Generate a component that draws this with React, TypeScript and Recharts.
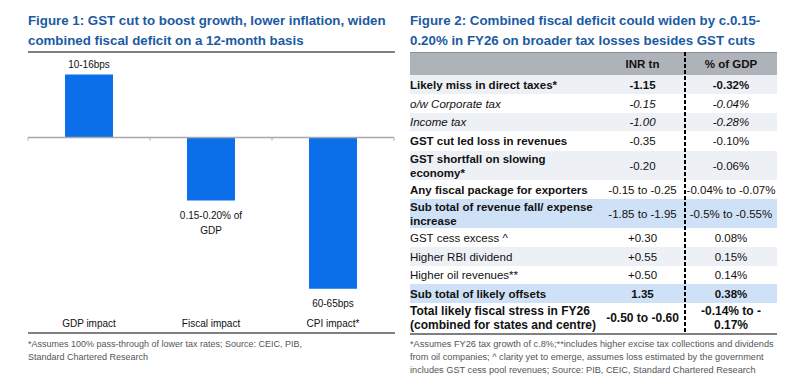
import React from "react";
import { BarChart, Bar, XAxis, YAxis, ReferenceLine, LabelList } from "recharts";

// Figure 1 data
const categories = ["GDP impact", "Fiscal impact", "CPI impact*"];
const impactValues = [25, -25, -60];
const impactLabels = [["10-16bps"], ["0.15-0.20% of", "GDP"], ["60-65bps"]];

// Figure 2 table data
const rowLabels = [
  "Likely miss in direct taxes*",
  "o/w Corporate tax",
  "Income tax",
  "GST cut led loss in revenues",
  "GST shortfall on slowing\neconomy*",
  "Any fiscal package for exporters",
  "Sub total of revenue fall/ expense\nincrease",
  "GST cess excess ^",
  "Higher RBI dividend",
  "Higher oil revenues**",
  "Sub total of likely offsets",
  "Total likely fiscal stress in FY26\n(combined for states and centre)",
];
const inrValues = [
  "-1.15", "-0.15", "-1.00", "-0.35", "-0.20", "-0.15 to -0.25",
  "-1.85 to -1.95", "+0.30", "+0.55", "+0.50", "1.35", "-0.50 to -0.60",
];
const gdpValues = [
  "-0.32%", "-0.04%", "-0.28%", "-0.10%", "-0.06%", "-0.04% to -0.07%",
  "-0.5% to -0.55%", "0.08%", "0.15%", "0.14%", "0.38%", "-0.14% to -\n0.17%",
];
const tableHeaders = ["", "INR tn", "% of GDP"];

// row styling (kept apart from the data)
const ROW_H = [19, 19, 18, 20, 29, 19, 29, 19, 19, 18, 19, 30];
const ROW_BG = ["#edf0f4", "#fff", "#edf0f4", "#fff", "#edf0f4", "#fff", "#cfe1f6", "#fff", "#edf0f4", "#fff", "#cfe1f6", "#fff"];
const LABEL_FONT = ["b", "i", "i", "b", "b", "b", "b", "n", "n", "n", "b", "b"];
const VALUE_FONT = ["b", "i", "i", "n", "n", "n", "n", "n", "n", "n", "b", "b"];

const FONT = '"Liberation Sans", Arial, Helvetica, sans-serif';
const TITLE_BLUE = "#1b5aa3";
const BAR_BLUE = "#0a6fe8";

const fontStyle = (k: string): React.CSSProperties =>
  k === "b" ? { fontWeight: 700 } : k === "i" ? { fontStyle: "italic" } : {};

const chartData = categories.map((name, i) => ({ name, value: impactValues[i] }));

const ZeroAxis = (p: any) => {
  const { x1, x2, y1 } = p;
  const step = (x2 - x1) / categories.length;
  return (
    <g>
      <line x1={x1} x2={x2} y1={y1} y2={y1} stroke="#a9a9a9" strokeWidth={1.5} />
      {Array.from({ length: categories.length + 1 }, (_, i) => (
        <line key={i} x1={x1 + i * step} x2={x1 + i * step} y1={y1} y2={y1 + 3} stroke="#a9a9a9" />
      ))}
    </g>
  );
};

const BarLabel = (props: any) => {
  const vb = props.viewBox ?? props;
  const { x, y, width, height } = vb;
  let idx = props.index;
  if (idx === undefined) idx = impactValues.indexOf(props.value);
  const lines = impactLabels[idx] ?? [];
  const top = Math.min(y, y + height);
  const bottom = Math.max(y, y + height);
  const cx = x + width / 2;
  const neg = impactValues[idx] < 0;
  return (
    <text textAnchor="middle" fontSize={10} fill="#111" fontFamily={FONT}>
      {lines.map((l, i) => (
        <tspan key={i} x={cx} y={neg ? bottom + 18 + i * 15 : top - 7}>
          {l}
        </tspan>
      ))}
    </text>
  );
};

const rule = (left: number, top: number, width: number): React.CSSProperties => ({
  position: "absolute", left, top, width, height: 2, background: "#808080",
});

export default function App() {
  return (
    <div style={{ position: "absolute", left: 0, top: 0, width: 801, height: 378, background: "#fff", fontFamily: FONT, color: "#111", overflow: "hidden" }}>
      {/* Figure 1 */}
      <div style={{ position: "absolute", left: 28, top: 11, fontSize: 13.3, lineHeight: "20px", fontWeight: 700, color: TITLE_BLUE, whiteSpace: "nowrap" }}>
        <div>Figure 1: GST cut to boost growth, lower inflation, widen</div>
        <div>combined fiscal deficit on a 12-month basis</div>
      </div>
      <div style={rule(28, 51, 367)} />
      <div style={{ position: "absolute", left: 0, top: 0 }}>
        <BarChart width={400} height={335} data={chartData} margin={{ top: 62, right: 6, left: 28, bottom: 6 }}>
          <YAxis hide domain={[-68, 30]} />
          <XAxis
            dataKey="name"
            axisLine={false}
            tickLine={false}
            tickSize={0}
            tickMargin={11}
            interval={0}
            height={20}
            tick={{ fontSize: 10, fill: "#111", fontFamily: FONT }}
          />
          <Bar dataKey="value" fill={BAR_BLUE} barSize={48} isAnimationActive={false}>
            <LabelList dataKey="value" content={BarLabel} />
          </Bar>
          <ReferenceLine y={0} shape={ZeroAxis} />
        </BarChart>
      </div>
      <div style={rule(28, 332, 367)} />
      <div style={{ position: "absolute", left: 28, top: 337.5, fontSize: 9, lineHeight: "13px", color: "#555", whiteSpace: "nowrap" }}>
        <div>*Assumes 100% pass-through of lower tax rates; Source: CEIC, PIB,</div>
        <div>Standard Chartered Research</div>
      </div>

      {/* Figure 2 */}
      <div style={{ position: "absolute", left: 410, top: 11, fontSize: 13.3, lineHeight: "20px", fontWeight: 700, color: TITLE_BLUE, whiteSpace: "nowrap" }}>
        <div>Figure 2: Combined fiscal deficit could widen by c.0.15-</div>
        <div>0.20% in FY26 on broader tax losses besides GST cuts</div>
      </div>
      <div style={{ position: "absolute", left: 410, top: 52, width: 367, fontSize: 11.5 }}>
        <div style={{ display: "flex", height: 23, background: "#aeb3ba", borderTop: "1px solid #8a9099", boxSizing: "border-box", fontWeight: 700, alignItems: "center" }}>
          <div style={{ width: 190 }}>{tableHeaders[0]}</div>
          <div style={{ width: 85, display: "flex", justifyContent: "center" }}>{tableHeaders[1]}</div>
          <div style={{ width: 92, display: "flex", justifyContent: "center" }}>{tableHeaders[2]}</div>
        </div>
        {rowLabels.map((label, i) => (
          <div key={i} style={{ display: "flex", height: ROW_H[i], background: ROW_BG[i], alignItems: "center", lineHeight: "14px", fontSize: i === rowLabels.length - 1 ? 12 : 11.5 }}>
            <div style={{ width: 190, whiteSpace: "pre", ...fontStyle(LABEL_FONT[i]) }}>{label}</div>
            <div style={{ width: 85, display: "flex", justifyContent: "center", whiteSpace: "pre", ...fontStyle(VALUE_FONT[i]) }}>{inrValues[i]}</div>
            <div style={{ width: 92, display: "flex", justifyContent: "center", whiteSpace: "pre", textAlign: "center", ...fontStyle(VALUE_FONT[i]) }}>{gdpValues[i]}</div>
          </div>
        ))}
      </div>
      <div
        style={{
          position: "absolute", left: 684, top: 52, width: 2, height: 282,
          background: "repeating-linear-gradient(to bottom, #000 0px, #000 4px, transparent 4px, transparent 6px)",
        }}
      />
      <div style={rule(410, 333, 367)} />
      <div style={{ position: "absolute", left: 410, top: 337.5, fontSize: 9.2, lineHeight: "13px", color: "#555", whiteSpace: "nowrap" }}>
        <div>*Assumes FY26 tax growth of c.8%;**includes higher excise tax collections and dividends</div>
        <div>from oil companies; ^ clarity yet to emerge, assumes loss estimated by the government</div>
        <div>includes GST cess pool revenues;  Source: PIB, CEIC, Standard Chartered Research</div>
      </div>
    </div>
  );
}
